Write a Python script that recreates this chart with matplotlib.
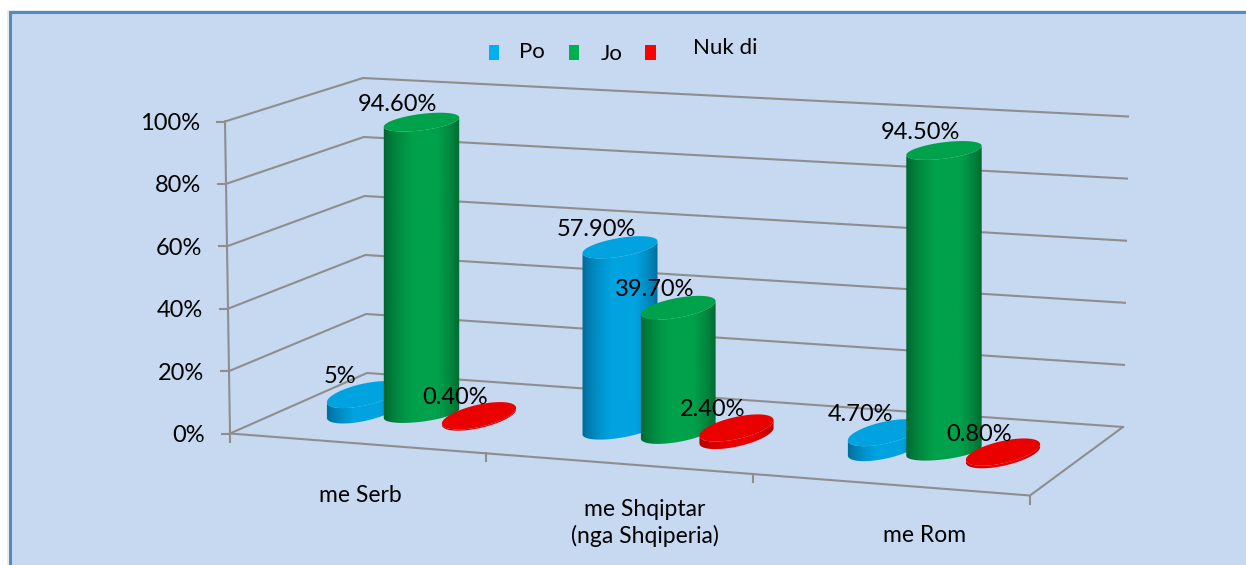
import numpy as np
import matplotlib
matplotlib.use('Agg')
import matplotlib.pyplot as plt
from matplotlib.patches import Polygon, Rectangle

plt.rcParams['font.family'] = ['Lato', 'DejaVu Sans']

# data
categories = ['me Serb', 'me Shqiptar\n(nga Shqiperia)', 'me Rom']
series_names = ['Po', 'Jo', 'Nuk di']
po_values = [5.0, 57.9, 4.7]
jo_values = [94.6, 39.7, 94.5]
nuk_di_values = [0.4, 2.4, 0.8]
value_labels = [['5%', '57.90%', '4.70%'],
                ['94.60%', '39.70%', '94.50%'],
                ['0.40%', '2.40%', '0.80%']]
y_ticks = [0, 20, 40, 60, 80, 100]

# colours
bg_col = '#C6D9F1'
grid_col = '#8E8E8E'
legend_cols = ['#00B0F0', '#00B050', '#FF0000']
top_cols = ['#00A3DF', '#00A14B', '#EB0000']
dark_cols = ['#005F8C', '#005C2B', '#A00000']

# the fake 3d box, in figure pixels
front_bottom = np.array([230.0, 433.5])
front_top = np.array([225.0, 121.5])
back_bottom = np.array([367.0, 373.0])
back_top = np.array([363.0, 78.0])
right_bottom = np.array([1123.0, 427.0])
right_top = np.array([1128.0, 116.5])
floor_corner = np.array([1030.0, 495.5])
tick_fracs = [0, 0.32, 0.654, 1]

cat_pos = [0, 1, 2.035]
first_base = np.array([364.0, 410.0])
cat_step = np.array([256.0, 18.5])
series_step = np.array([57.5, 3.5])
half_width = 38.0


def base_point(cat, series):
    # series spacing opens up a little towards the front
    step = series_step + np.array([0.75 * cat_pos[cat], 0.0])
    return first_base + cat_pos[cat] * cat_step + series * step


def top_point(cat, series, value):
    per_unit = 3.08 + 0.05 * cat_pos[cat]
    return base_point(cat, series) - np.array([0.0, value * per_unit])


def ellipse_points(center, value, t):
    # tilted ellipse, flatter for the tall cylinders
    angle = np.radians(-13 + 0.06 * value)
    minor = 11 - 0.03 * value
    x = half_width * np.cos(t)
    y = minor * np.sin(t)
    px = center[0] + x * np.cos(angle) - y * np.sin(angle)
    py = center[1] + x * np.sin(angle) + y * np.cos(angle)
    return np.column_stack([px, py])


def draw_cylinder(ax, cat, series, value):
    base = base_point(cat, series)
    top = top_point(cat, series, value)
    half = np.linspace(0, np.pi, 40)
    low = ellipse_points(base, value, half)
    up = ellipse_points(top, value, half)
    body = Polygon(np.vstack([low, up[::-1]]), closed=True, fc='none', ec='none',
                   transform=ax.transData)
    ax.add_patch(body)
    # left to right shading for the side
    u = np.linspace(0, 1, 120)
    shade = np.clip(np.minimum(u / 0.38, (1 - u) / 0.3), 0, 1) ** 0.6
    c1 = np.array(matplotlib.colors.to_rgb(dark_cols[series]))
    c2 = np.array(matplotlib.colors.to_rgb(top_cols[series]))
    grad = (c1[None, :] * (1 - shade[:, None]) + c2[None, :] * shade[:, None])[None, :, :]
    x0 = base[0] - half_width - 1
    x1 = base[0] + half_width + 1
    img = ax.imshow(grad, extent=[x0, x1, low[:, 1].max() + 1, up[:, 1].min() - 1],
                    aspect='auto', zorder=3 + series * 0.1 + cat)
    img.set_clip_path(body)
    # top face
    pts = ellipse_points(top, value, np.linspace(0, 2 * np.pi, 80))
    ax.add_patch(Polygon(pts, closed=True, fc=top_cols[series], ec='none',
                         zorder=3.05 + series * 0.1 + cat))


def main():
    fig = plt.figure(figsize=(12.46, 5.65), dpi=100, facecolor='white')
    ax = fig.add_axes([0, 0, 1, 1])
    ax.set_xlim(0, 1246)
    ax.set_ylim(565, 0)
    ax.axis('off')

    # soft shadow, then the panel
    ax.add_patch(Rectangle((7, 10), 1245, 560, fc='#EDEDED', ec='none', zorder=0))
    ax.add_patch(Rectangle((10, 12), 1245, 560, fc=bg_col, ec='#5687C8', lw=2.2, zorder=0.5))

    # gridlines on both walls
    lw = 1.5
    for tick in y_ticks:
        f = tick / 100
        a = front_bottom + f * (front_top - front_bottom)
        b = back_bottom + f * (back_top - back_bottom)
        c = right_bottom + f * (right_top - right_bottom)
        ax.plot([a[0] - 8, a[0]], [a[1], a[1]], color=grid_col, lw=lw, zorder=1)
        ax.plot([a[0], b[0], c[0]], [a[1], b[1], c[1]], color=grid_col, lw=lw, zorder=1)
        ax.text(a[0] - 25, a[1] + 2, '%d%%' % tick, ha='right', va='center', fontsize=17,
                color='black', zorder=6)
    ax.plot([front_bottom[0], front_top[0]], [front_bottom[1], front_top[1]],
            color=grid_col, lw=lw, zorder=1)
    ax.plot([front_bottom[0], floor_corner[0], right_bottom[0]],
            [front_bottom[1], floor_corner[1], right_bottom[1]], color=grid_col, lw=lw, zorder=1)

    # category ticks on the floor edge
    edge = floor_corner - front_bottom
    for frac in tick_fracs:
        p = front_bottom + edge * frac
        ax.plot([p[0], p[0]], [p[1], p[1] + 8], color=grid_col, lw=lw, zorder=1)

    all_values = [po_values, jo_values, nuk_di_values]
    for cat in range(len(categories)):
        for series in range(len(series_names)):
            draw_cylinder(ax, cat, series, all_values[series][cat])

    # data labels
    for cat in range(len(categories)):
        for series in range(len(series_names)):
            top = top_point(cat, series, all_values[series][cat])
            ax.text(top[0] - 24, top[1] - 18, value_labels[series][cat], ha='center',
                    va='center', fontsize=17, color='black', zorder=10)

    # category labels
    label_xy = [(360, 495), (645, 523), (925, 535)]
    for name, (x, y) in zip(categories, label_xy):
        ax.text(x, y, name, ha='center', va='center', fontsize=16.5, color='black',
                linespacing=1.25, zorder=6)

    # legend
    swatches = [(489, 45, 10), (569, 45, 10), (645, 45, 11)]
    legend_text = [(519, 52), (601, 54), (693, 48)]
    for i, name in enumerate(series_names):
        x, y, w = swatches[i]
        ax.add_patch(Rectangle((x, y), w, 15, fc=legend_cols[i], ec='none', zorder=6))
        ax.text(legend_text[i][0], legend_text[i][1], name, ha='left', va='center',
                fontsize=16, color='black', zorder=6)

    ax.set_xlim(0, 1246)
    ax.set_ylim(565, 0)
    fig.savefig('out.png', dpi=100)


if __name__ == '__main__':
    main()
